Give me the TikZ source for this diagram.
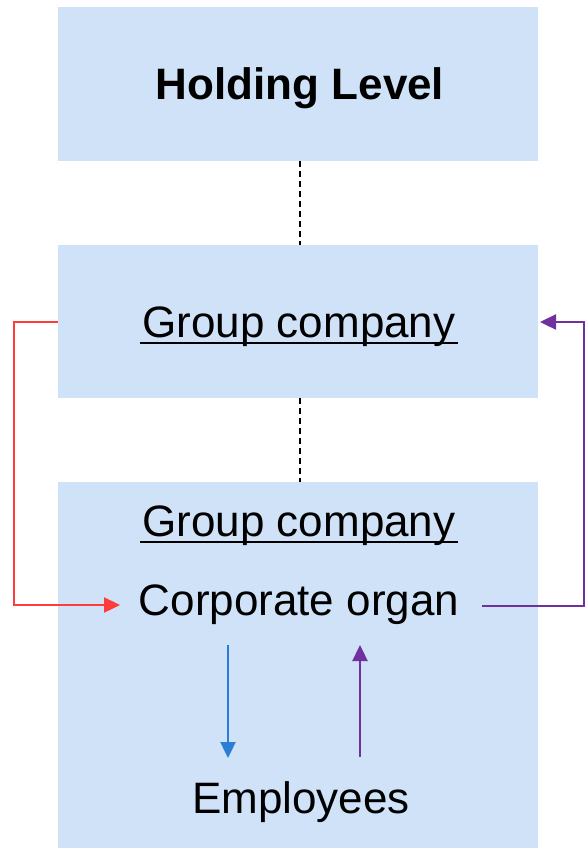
\documentclass[tikz,border=0pt]{standalone}
\usepackage{fontspec}
\setmainfont{Liberation Sans}
\usetikzlibrary{arrows.meta,calc}
\definecolor{boxblue}{RGB}{207,226,247}
\definecolor{linered}{RGB}{255,60,60}
\definecolor{linepurple}{RGB}{112,48,160}
\definecolor{lineblue}{RGB}{45,125,215}
\begin{document}
\begin{tikzpicture}[x=1pt,y=-1pt,
  levelbox/.style={fill=boxblue,draw=none,minimum width=480pt,inner sep=0pt,outer sep=0pt},
  lbl/.style={inner sep=0pt,outer sep=0pt,anchor=base,font=\fontsize{44}{50}\selectfont},
  conn/.style={line width=2.4pt,-{Triangle[length=16pt,width=15pt]}},
  dashline/.style={line width=1.6pt,dash pattern=on 6pt off 4pt}]
\useasboundingbox (0,0) rectangle (585,848);
\fill[white] (0,0) rectangle (585,848);
\node[levelbox,minimum height=154pt] (b1) at (298,84) {};
\node[levelbox,minimum height=153pt] (b2) at (298,321.5) {};
\node[levelbox,minimum height=366pt] (b3) at (298,665) {};
\node[lbl,font=\fontsize{44}{50}\selectfont\bfseries] (hl) at (300,100) {Holding Level};
\node[lbl] (gc1) at (299,337) {Group company};
\node[lbl] (gc2) at (299,536) {Group company};
\node[lbl] (co) at (299,615) {Corporate organ};
\node[lbl] (emp) at (301,813) {Employees};
\draw[line width=2.5pt] ([yshift=-6pt,xshift=-2pt]gc1.base west) -- ([yshift=-6pt,xshift=2pt]gc1.base east);
\draw[line width=2.5pt] ([yshift=-6pt,xshift=-2pt]gc2.base west) -- ([yshift=-6pt,xshift=2pt]gc2.base east);
\draw[dashline] (b1.south -| 300,0) -- (b2.north -| 300,0);
\draw[dashline] (b2.south -| 300,0) -- (b3.north -| 300,0);
\coordinate (rs) at (58,322);
\coordinate (rc1) at (14,322);
\coordinate (rc2) at (14,605);
\coordinate (re) at (120,605);
\draw[conn,linered] (rs) -- (rc1) -- (rc2) -- (re);
\coordinate (ps) at (482,606);
\coordinate (pc1) at (584,606);
\coordinate (pc2) at (584,322);
\coordinate (pe) at (540,322);
\draw[conn,linepurple] (ps) -- (pc1) -- (pc2) -- (pe);
\coordinate (bs) at (228,645);
\coordinate (be) at (228,758);
\draw[conn,lineblue] (bs) -- (be);
\coordinate (us) at (360,757);
\coordinate (ue) at (360,645);
\draw[conn,linepurple] (us) -- (ue);
\end{tikzpicture}
\end{document}
